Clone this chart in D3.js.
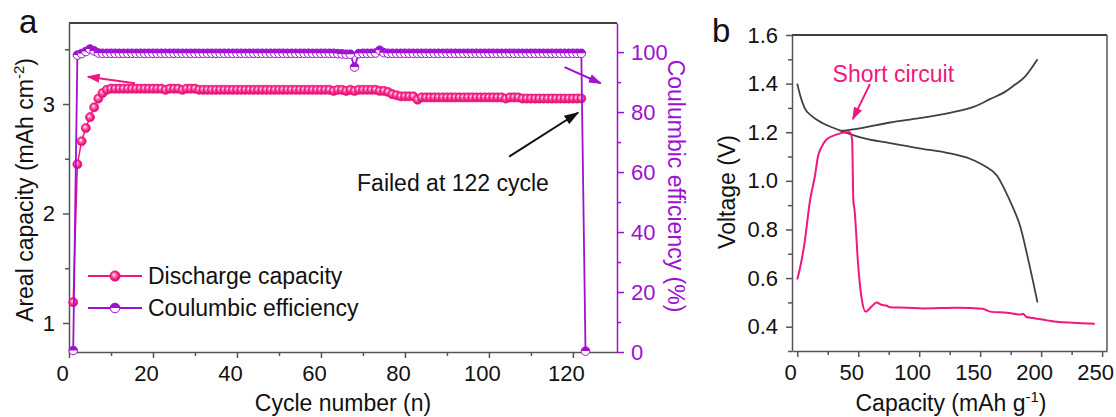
<!DOCTYPE html>
<html>
<head>
<meta charset="utf-8">
<script src="https://cdn.jsdelivr.net/npm/d3@7"></script>
<style>
  body { margin: 0; background: #fff; }
  svg { font-family: "Liberation Sans", Arial, sans-serif; }
</style>
</head>
<body>
<svg id="fig" width="1116" height="417"></svg>
<script>
// ---- panel a: cycling data (cycle n = index + 1)
const dischargeCap = [
  1.19, 2.45, 2.66, 2.78, 2.88, 2.97, 3.05, 3.10, 3.13, 3.14,
  3.14, 3.14, 3.14, 3.14, 3.14, 3.14, 3.14, 3.14, 3.14, 3.14,
  3.14, 3.14, 3.13, 3.14, 3.14, 3.14, 3.13, 3.14, 3.14, 3.14,
  3.13, 3.13, 3.13, 3.13, 3.13, 3.13, 3.13, 3.13, 3.13, 3.13,
  3.13, 3.13, 3.13, 3.13, 3.13, 3.13, 3.13, 3.13, 3.13, 3.13,
  3.13, 3.13, 3.13, 3.13, 3.13, 3.13, 3.13, 3.13, 3.13, 3.13,
  3.13, 3.13, 3.12, 3.13, 3.13, 3.12, 3.13, 3.12, 3.13, 3.13,
  3.13, 3.13, 3.13, 3.12, 3.12, 3.11, 3.09, 3.08, 3.07, 3.07,
  3.07, 3.07, 3.04, 3.06, 3.06, 3.06, 3.06, 3.06, 3.06, 3.06,
  3.06, 3.06, 3.06, 3.06, 3.06, 3.06, 3.06, 3.06, 3.06, 3.06,
  3.06, 3.06, 3.06, 3.05, 3.06, 3.06, 3.06, 3.05, 3.05, 3.05,
  3.05, 3.05, 3.05, 3.05, 3.05, 3.05, 3.05, 3.05, 3.05, 3.05,
  3.05, 3.05
];
const coulombicEff = [
  0.5, 99.0, 99.5, 100.2, 101.0, 100.4, 99.7, 99.6, 99.6, 99.6,
  99.6, 99.6, 99.6, 99.6, 99.6, 99.6, 99.6, 99.6, 99.6, 99.6,
  99.6, 99.6, 99.6, 99.6, 99.6, 99.6, 99.6, 99.6, 99.6, 99.6,
  99.6, 99.6, 99.6, 99.6, 99.6, 99.6, 99.6, 99.6, 99.6, 99.6,
  99.6, 99.6, 99.6, 99.6, 99.6, 99.6, 99.6, 99.6, 99.6, 99.6,
  99.6, 99.6, 99.6, 99.6, 99.6, 99.6, 99.6, 99.6, 99.6, 99.6,
  99.6, 99.6, 99.6, 99.5, 99.4, 99.3, 99.3, 95.0, 99.5, 99.6,
  99.6, 99.6, 99.7, 100.6, 99.8, 99.6, 99.6, 99.6, 99.6, 99.6,
  99.6, 99.6, 99.6, 99.6, 99.6, 99.6, 99.6, 99.6, 99.6, 99.6,
  99.6, 99.6, 99.6, 99.6, 99.6, 99.6, 99.6, 99.6, 99.6, 99.6,
  99.6, 99.6, 99.6, 99.6, 99.6, 99.6, 99.6, 99.6, 99.6, 99.6,
  99.6, 99.6, 99.6, 99.6, 99.6, 99.6, 99.6, 99.6, 99.6, 99.6,
  99.6, 99.6, 0.3
];
const cycleTicks = [0, 20, 40, 60, 80, 100, 120];
const cycleMinor = [10, 30, 50, 70, 90, 110];
const capTicks = [1, 2, 3];
const capMinor = [1.5, 2.5, 3.5];
const ceTicks = [0, 20, 40, 60, 80, 100];
const ceMinor = [10, 30, 50, 70, 90];

// ---- panel b: voltage profiles
const disCap = [0, 2.5, 6, 12, 21, 35, 51, 76, 100, 125, 142, 154, 164, 170, 176, 183, 189, 197];
const disV   = [1.40, 1.35, 1.30, 1.266, 1.237, 1.208, 1.18, 1.155, 1.134, 1.113, 1.09, 1.06, 1.02, 0.965, 0.90, 0.81, 0.685, 0.50];
const chgCap = [36, 50, 76, 100, 125, 145, 158, 170, 177, 187, 197];
const chgV   = [1.205, 1.215, 1.24, 1.258, 1.28, 1.305, 1.336, 1.365, 1.39, 1.43, 1.50];
const shortCap = [0, 2, 6, 10.5, 14.5, 17, 20, 24, 32, 40.6, 43, 45, 46, 47, 50, 53, 56, 61, 65, 69, 73, 76, 90, 103, 131, 152, 158, 172, 183, 185, 188, 193, 205, 213, 226, 244];
const shortV   = [0.594, 0.635, 0.745, 0.92, 1.02, 1.10, 1.14, 1.17, 1.19, 1.20, 1.20, 1.17, 0.92, 0.88, 0.65, 0.51, 0.462, 0.483, 0.50, 0.49, 0.487, 0.48, 0.478, 0.475, 0.478, 0.474, 0.462, 0.457, 0.45, 0.453, 0.44, 0.436, 0.426, 0.42, 0.416, 0.412];
const capBTicks = [0, 50, 100, 150, 200, 250];
const capBMinor = [25, 75, 125, 175, 225];
const voltTicks = [0.4, 0.6, 0.8, 1.0, 1.2, 1.4, 1.6];
const voltMinor = [0.3, 0.5, 0.7, 0.9, 1.1, 1.3, 1.5];

const PINK = '#f0177f';
const PURPLE = '#a010d0';
const AXIS = '#555';
const FS = '22px';
const FT = '23px';

const svg = d3.select('#fig');
const defs = svg.append('defs');

const grad = defs.append('radialGradient').attr('id', 'sphere')
  .attr('cx', '50%').attr('cy', '50%').attr('r', '55%').attr('fx', '38%').attr('fy', '35%');
grad.append('stop').attr('offset', '0%').attr('stop-color', '#fff');
grad.append('stop').attr('offset', '35%').attr('stop-color', '#ff6fb0');
grad.append('stop').attr('offset', '70%').attr('stop-color', PINK);
grad.append('stop').attr('offset', '100%').attr('stop-color', '#c80a62');

function arrowHead(id, color, w, h) {
  defs.append('marker').attr('id', id)
    .attr('viewBox', '0 0 10 10').attr('refX', 9).attr('refY', 5)
    .attr('markerWidth', w).attr('markerHeight', h).attr('markerUnits', 'userSpaceOnUse')
    .attr('orient', 'auto').attr('preserveAspectRatio', 'none')
    .append('path').attr('d', 'M0,0 L10,5 L0,10 Z').attr('fill', color);
}
arrowHead('ahPink', PINK, 13, 9);
arrowHead('ahPurple', PURPLE, 13, 9);
arrowHead('ahBlack', '#111', 15, 10);

// style an axis group
function styleAxis(g, color, textColor) {
  g.select('.domain').attr('stroke', color).attr('stroke-width', 1.5);
  g.selectAll('.tick line').attr('stroke', color).attr('stroke-width', 1.5);
  g.selectAll('.tick text').attr('fill', textColor || '#111').style('font-size', FS);
}

function drawAxis(gen, minorGen, tr, color, textColor) {
  const m = svg.append('g').attr('transform', tr).call(minorGen);
  m.select('.domain').remove();
  m.selectAll('.tick line').attr('stroke', color).attr('stroke-width', 1.5);
  const g = svg.append('g').attr('transform', tr).call(gen);
  styleAxis(g, color, textColor);
  return g;
}

function ceMarker(g, x, y, r) {
  const m = g.append('g').attr('transform', `translate(${x},${y})`);
  m.append('circle').attr('r', r).attr('fill', '#fff').attr('stroke', PURPLE).attr('stroke-width', 1);
  m.append('path').attr('d', `M${-r},0 A${r},${r} 0 0 1 ${r},0 Z`).attr('fill', PURPLE);
}

// ================= panel a =================
const xA = d3.scaleLinear().domain([0, 130.5]).range([69, 617]);
const yA = d3.scaleLinear().domain([0.735, 3.74]).range([352, 23]);
const yR = d3.scaleLinear().domain([0, 109.7]).range([352, 23]);

svg.append('line').attr('x1', xA.range()[0]).attr('x2', xA.range()[1])
  .attr('y1', yA.range()[1]).attr('y2', yA.range()[1]).attr('stroke', '#000').attr('stroke-width', 1.5);

drawAxis(d3.axisBottom(xA).tickValues(cycleTicks).tickSize(6).tickPadding(7).tickSizeOuter(0),
  d3.axisBottom(xA).tickValues(cycleMinor).tickSize(4).tickFormat(''),
  `translate(0,${yA.range()[0]})`, AXIS)
  .selectAll('.tick text').attr('dx', -7);
drawAxis(d3.axisLeft(yA).tickValues(capTicks).tickSize(6).tickPadding(8).tickSizeOuter(0).tickFormat(d3.format('d')),
  d3.axisLeft(yA).tickValues(capMinor).tickSize(4).tickFormat(''),
  `translate(${xA.range()[0]},0)`, AXIS);
drawAxis(d3.axisRight(yR).tickValues(ceTicks).tickSize(7).tickPadding(7).tickSizeOuter(0),
  d3.axisRight(yR).tickValues(ceMinor).tickSize(4).tickFormat(''),
  `translate(${xA.range()[1]},0)`, PURPLE, PURPLE);

const plotA = svg.append('g');
const disPts = dischargeCap.map((v, i) => [i + 1, v]);
const cePts = coulombicEff.map((v, i) => [i + 1, v]);

plotA.append('path').datum(disPts)
  .attr('d', d3.line().x(d => xA(d[0])).y(d => yA(d[1])))
  .attr('fill', 'none').attr('stroke', PINK).attr('stroke-width', 1.5);
plotA.selectAll('circle.dis').data(disPts).enter().append('circle').attr('class', 'dis')
  .attr('cx', d => xA(d[0])).attr('cy', d => yA(d[1])).attr('r', 4.6)
  .attr('fill', 'url(#sphere)').attr('stroke', PINK).attr('stroke-width', 0.6);

plotA.append('path').datum(cePts)
  .attr('d', d3.line().x(d => xA(d[0])).y(d => yR(d[1])))
  .attr('fill', 'none').attr('stroke', PURPLE).attr('stroke-width', 1.8);
cePts.forEach(d => ceMarker(plotA, xA(d[0]), yR(d[1]), 4.3));

// annotations (placed in data units)
svg.append('line')
  .attr('x1', xA(15.7)).attr('y1', yA(3.19)).attr('x2', xA(4.5)).attr('y2', yA(3.25))
  .attr('stroke', PINK).attr('stroke-width', 2).attr('marker-end', 'url(#ahPink)');
svg.append('line')
  .attr('x1', xA(118)).attr('y1', yR(95)).attr('x2', xA(126.6)).attr('y2', yR(89.6))
  .attr('stroke', PURPLE).attr('stroke-width', 2).attr('marker-end', 'url(#ahPurple)');
svg.append('line')
  .attr('x1', xA(104.8)).attr('y1', yA(2.52)).attr('x2', xA(121.2)).attr('y2', yA(2.92))
  .attr('stroke', '#111').attr('stroke-width', 2).attr('marker-end', 'url(#ahBlack)');
svg.append('text').attr('x', xA(68.6)).attr('y', yA(2.21))
  .style('font-size', FT).attr('fill', '#111').text('Failed at 122 cycle');

// legend
const leg = svg.append('g');
[[276, 'dis', 'Discharge capacity'], [308, 'ce', 'Coulumbic efficiency']].forEach(([y, k, label]) => {
  leg.append('line').attr('x1', 88).attr('x2', 142).attr('y1', y).attr('y2', y)
    .attr('stroke', k === 'dis' ? PINK : PURPLE).attr('stroke-width', 2);
  if (k === 'dis') {
    leg.append('circle').attr('cx', 115).attr('cy', y).attr('r', 5.2)
      .attr('fill', 'url(#sphere)').attr('stroke', PINK).attr('stroke-width', 0.6);
  } else {
    ceMarker(leg, 115, y, 4.8);
  }
  leg.append('text').attr('x', 148).attr('y', y).attr('dy', '0.36em')
    .style('font-size', FT).attr('fill', '#111').text(label);
});

// titles
const tA = svg.append('text').attr('transform', 'translate(33,190) rotate(-90)')
  .attr('text-anchor', 'middle').style('font-size', FT).attr('fill', '#111');
tA.append('tspan').text('Areal capacity (mAh cm');
tA.append('tspan').attr('dy', -9).style('font-size', '15px').text('-2');
tA.append('tspan').attr('dy', 9).text(')');

svg.append('text').attr('transform', 'translate(668,186) rotate(90)')
  .attr('text-anchor', 'middle').style('font-size', FT).attr('fill', PURPLE)
  .text('Coulumbic efficiency (%)');
svg.append('text').attr('x', 343).attr('y', 411).attr('text-anchor', 'middle')
  .style('font-size', FT).attr('fill', '#111').text('Cycle number (n)');
svg.append('text').attr('x', 19).attr('y', 33).style('font-size', '33px').attr('fill', '#111').text('a');

// ================= panel b =================
const xB = d3.scaleLinear().domain([-4.3, 254]).range([792, 1107]);
const yB = d3.scaleLinear().domain([0.3, 1.6]).range([351, 35]);

svg.append('line').attr('x1', xB.range()[0]).attr('x2', xB.range()[1])
  .attr('y1', yB.range()[1]).attr('y2', yB.range()[1]).attr('stroke', '#000').attr('stroke-width', 1.5);
svg.append('line').attr('x1', xB.range()[1]).attr('x2', xB.range()[1])
  .attr('y1', yB.range()[0]).attr('y2', yB.range()[1]).attr('stroke', AXIS).attr('stroke-width', 1.5);

drawAxis(d3.axisBottom(xB).tickValues(capBTicks).tickSize(6).tickPadding(7).tickSizeOuter(0),
  d3.axisBottom(xB).tickValues(capBMinor).tickSize(4).tickFormat(''),
  `translate(0,${yB.range()[0]})`, AXIS)
  .selectAll('.tick text').attr('dx', -7);
drawAxis(d3.axisLeft(yB).tickValues(voltTicks).tickSize(6).tickPadding(8).tickSizeOuter(0).tickFormat(d3.format('.1f')),
  d3.axisLeft(yB).tickValues(voltMinor).tickSize(4).tickFormat(''),
  `translate(${xB.range()[0]},0)`, AXIS);

const lineB = d3.line().x(d => xB(d[0])).y(d => yB(d[1])).curve(d3.curveMonotoneX);
const curvesB = [
  [disCap, disV, '#404040', 1.8],
  [chgCap, chgV, '#404040', 1.8],
  [shortCap, shortV, PINK, 2]
];
curvesB.forEach(([xs, ys, color, w]) => {
  svg.append('path').datum(xs.map((x, i) => [x, ys[i]]))
    .attr('d', lineB).attr('fill', 'none').attr('stroke', color).attr('stroke-width', w)
    .attr('stroke-linejoin', 'round');
});

svg.append('text').attr('x', xB(29)).attr('y', yB(1.406))
  .style('font-size', FT).attr('fill', PINK).text('Short circuit');
svg.append('line')
  .attr('x1', xB(59.6)).attr('y1', yB(1.398)).attr('x2', xB(45.6)).attr('y2', yB(1.254))
  .attr('stroke', PINK).attr('stroke-width', 2).attr('marker-end', 'url(#ahPink)');

svg.append('text').attr('transform', 'translate(735,192) rotate(-90)')
  .attr('text-anchor', 'middle').style('font-size', FT).attr('fill', '#111').text('Voltage (V)');
const tBx = svg.append('text').attr('x', 951).attr('y', 411).attr('text-anchor', 'middle')
  .style('font-size', FT).attr('fill', '#111');
tBx.append('tspan').text('Capacity (mAh g');
tBx.append('tspan').attr('dy', -9).style('font-size', '15px').text('-1');
tBx.append('tspan').attr('dy', 9).text(')');
svg.append('text').attr('x', 712).attr('y', 42).style('font-size', '33px').attr('fill', '#111').text('b');
</script>
</body>
</html>
